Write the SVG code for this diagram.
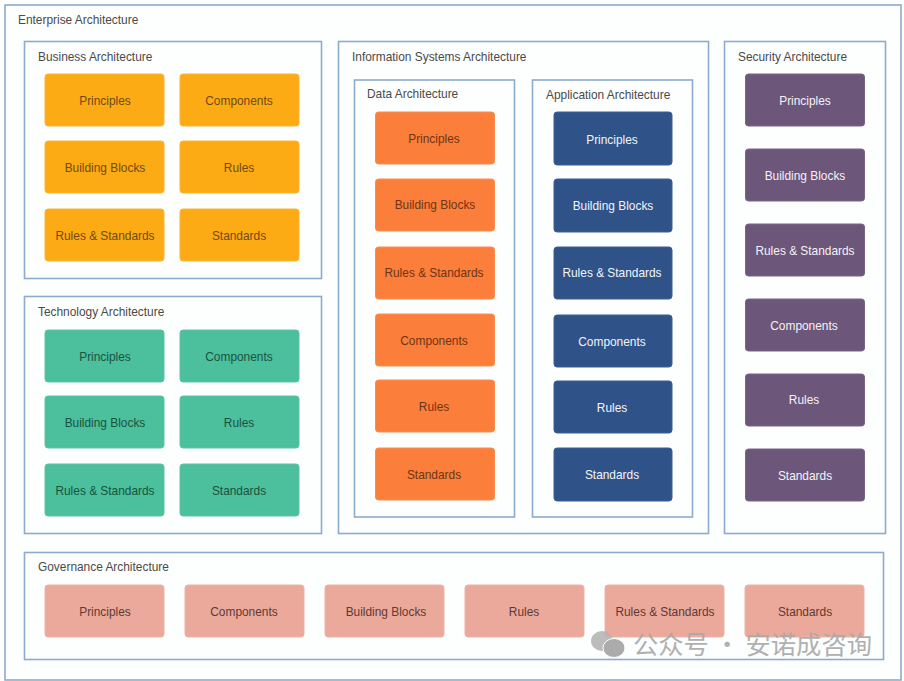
<svg xmlns="http://www.w3.org/2000/svg" width="904" height="681" viewBox="0 0 904 681">
<style>
text{font-family:"Liberation Sans",Arial,sans-serif;font-size:11.9px}
.c{fill:#fdfefe;stroke:#8dabcc;stroke-width:1.6}
.t{fill:#4a4a4a;text-anchor:start}
.n{text-anchor:middle;dominant-baseline:central}
.y rect{fill:#fdab14;stroke:#fdb535}.y text{fill:#6e4a14}
.g rect{fill:#4cbf9c;stroke:#5cc5a5}.g text{fill:#17543f}
.o rect{fill:#fb7f3a;stroke:#fb8d50}.o text{fill:#6e3414}
.b rect{fill:#2f5288;stroke:#3d5f94}.b text{fill:#f2f5fa}
.p rect{fill:#6c5679;stroke:#7a6587}.p text{fill:#f5f2f7}
.s rect{fill:#eaa99b;stroke:#ecb2a5}.s text{fill:#5e3a34}
</style>
<rect width="904" height="681" fill="#fff"/>
<g id="containers">
<g id="enterprise"><rect class="c" x="5" y="5" width="896" height="675"/><text class="t" x="18" y="23.500">Enterprise Architecture</text></g>
<g id="business"><rect class="c" x="24.500" y="41.500" width="297" height="237"/><text class="t" x="38" y="60.500">Business Architecture</text></g>
<g id="technology"><rect class="c" x="24.500" y="296.500" width="297" height="237"/><text class="t" x="38" y="315.500">Technology Architecture</text></g>
<g id="information"><rect class="c" x="338.500" y="41.500" width="370" height="492"/><text class="t" x="352" y="60.500">Information Systems Architecture</text></g>
<g id="data"><rect class="c" x="354.500" y="80" width="160" height="437"/><text class="t" x="367" y="97.500">Data Architecture</text></g>
<g id="application"><rect class="c" x="532.500" y="80" width="160" height="437"/><text class="t" x="546" y="98.500">Application Architecture</text></g>
<g id="security"><rect class="c" x="724.500" y="41.500" width="161" height="492"/><text class="t" x="738" y="60.500">Security Architecture</text></g>
<g id="governance"><rect class="c" x="24.500" y="552.500" width="859" height="107"/><text class="t" x="38" y="571">Governance Architecture</text></g>
</g>
<g id="connectors"></g>
<g id="business-nodes" class="y">
<g id="ba1"><rect x="45" y="74" width="119" height="52" rx="3"/><text class="n" x="105" y="101">Principles</text></g>
<g id="ba2"><rect x="180" y="74" width="119" height="52" rx="3"/><text class="n" x="239" y="101">Components</text></g>
<g id="ba3"><rect x="45" y="141" width="119" height="52" rx="3"/><text class="n" x="105" y="167.500">Building Blocks</text></g>
<g id="ba4"><rect x="180" y="141" width="119" height="52" rx="3"/><text class="n" x="239" y="167.500">Rules</text></g>
<g id="ba5"><rect x="45" y="209" width="119" height="52" rx="3"/><text class="n" x="105" y="235.500">Rules &amp; Standards</text></g>
<g id="ba6"><rect x="180" y="209" width="119" height="52" rx="3"/><text class="n" x="239" y="235.500">Standards</text></g>
</g>
<g id="technology-nodes" class="g">
<g id="ta1"><rect x="45" y="330" width="119" height="52" rx="3"/><text class="n" x="105" y="356.500">Principles</text></g>
<g id="ta2"><rect x="180" y="330" width="119" height="52" rx="3"/><text class="n" x="239" y="356.500">Components</text></g>
<g id="ta3"><rect x="45" y="396" width="119" height="52" rx="3"/><text class="n" x="105" y="422.500">Building Blocks</text></g>
<g id="ta4"><rect x="180" y="396" width="119" height="52" rx="3"/><text class="n" x="239" y="422.500">Rules</text></g>
<g id="ta5"><rect x="45" y="464" width="119" height="52" rx="3"/><text class="n" x="105" y="491">Rules &amp; Standards</text></g>
<g id="ta6"><rect x="180" y="464" width="119" height="52" rx="3"/><text class="n" x="239" y="491">Standards</text></g>
</g>
<g id="data-nodes" class="o">
<g id="da1"><rect x="375.500" y="112" width="119" height="52" rx="3"/><text class="n" x="434" y="138.500">Principles</text></g>
<g id="da2"><rect x="375.500" y="179" width="119" height="52" rx="3"/><text class="n" x="435" y="204.500">Building Blocks</text></g>
<g id="da3"><rect x="375.500" y="247" width="119" height="52" rx="3"/><text class="n" x="434" y="273">Rules &amp; Standards</text></g>
<g id="da4"><rect x="375.500" y="314" width="119" height="52" rx="3"/><text class="n" x="434" y="340.500">Components</text></g>
<g id="da5"><rect x="375.500" y="380" width="119" height="52" rx="3"/><text class="n" x="434" y="406.500">Rules</text></g>
<g id="da6"><rect x="375.500" y="448" width="119" height="52" rx="3"/><text class="n" x="434" y="474.500">Standards</text></g>
</g>
<g id="application-nodes" class="b">
<g id="aa1"><rect x="554" y="112" width="118" height="53" rx="3"/><text class="n" x="612" y="139.500">Principles</text></g>
<g id="aa2"><rect x="554" y="179" width="118" height="53" rx="3"/><text class="n" x="613" y="205.500">Building Blocks</text></g>
<g id="aa3"><rect x="554" y="247" width="118" height="52" rx="3"/><text class="n" x="612" y="273">Rules &amp; Standards</text></g>
<g id="aa4"><rect x="554" y="315" width="118" height="52" rx="3"/><text class="n" x="612" y="341.500">Components</text></g>
<g id="aa5"><rect x="554" y="381" width="118" height="52" rx="3"/><text class="n" x="612" y="407.500">Rules</text></g>
<g id="aa6"><rect x="554" y="448" width="118" height="53" rx="3"/><text class="n" x="612" y="475">Standards</text></g>
</g>
<g id="security-nodes" class="p">
<g id="sa1"><rect x="745.500" y="74" width="119" height="52" rx="3"/><text class="n" x="805" y="101">Principles</text></g>
<g id="sa2"><rect x="745.500" y="149" width="119" height="52" rx="3"/><text class="n" x="805" y="176">Building Blocks</text></g>
<g id="sa3"><rect x="745.500" y="224" width="119" height="52" rx="3"/><text class="n" x="805" y="250.500">Rules &amp; Standards</text></g>
<g id="sa4"><rect x="745.500" y="299" width="119" height="52" rx="3"/><text class="n" x="804" y="325.500">Components</text></g>
<g id="sa5"><rect x="745.500" y="374" width="119" height="52" rx="3"/><text class="n" x="804" y="399.500">Rules</text></g>
<g id="sa6"><rect x="745.500" y="449" width="119" height="52" rx="3"/><text class="n" x="805" y="475.500">Standards</text></g>
</g>
<g id="governance-nodes" class="s">
<g id="ga1"><rect x="45" y="585" width="119" height="52" rx="3"/><text class="n" x="105" y="611.500">Principles</text></g>
<g id="ga2"><rect x="185" y="585" width="119" height="52" rx="3"/><text class="n" x="244" y="611.500">Components</text></g>
<g id="ga3"><rect x="325" y="585" width="119" height="52" rx="3"/><text class="n" x="386" y="611.500">Building Blocks</text></g>
<g id="ga4"><rect x="465" y="585" width="119" height="52" rx="3"/><text class="n" x="524" y="611.500">Rules</text></g>
<g id="ga5"><rect x="605" y="585" width="119" height="52" rx="3"/><text class="n" x="665" y="611.500">Rules &amp; Standards</text></g>
<g id="ga6"><rect x="745" y="585" width="119" height="52" rx="3"/><text class="n" x="805" y="611.500">Standards</text></g>
</g>
<g id="watermark" opacity="0.9">
<ellipse cx="602" cy="641" rx="11" ry="10" fill="#b5b5b5"/>
<ellipse cx="614" cy="648" rx="11" ry="9.500" fill="#a3a3a3" stroke="#fff" stroke-width="1"/>
<text x="633" y="654" style="font-family:'Noto Sans CJK SC',sans-serif;font-size:25.300px;fill:#a8a8a8">公众号 · 安诺成咨询</text>
</g>
</svg>
